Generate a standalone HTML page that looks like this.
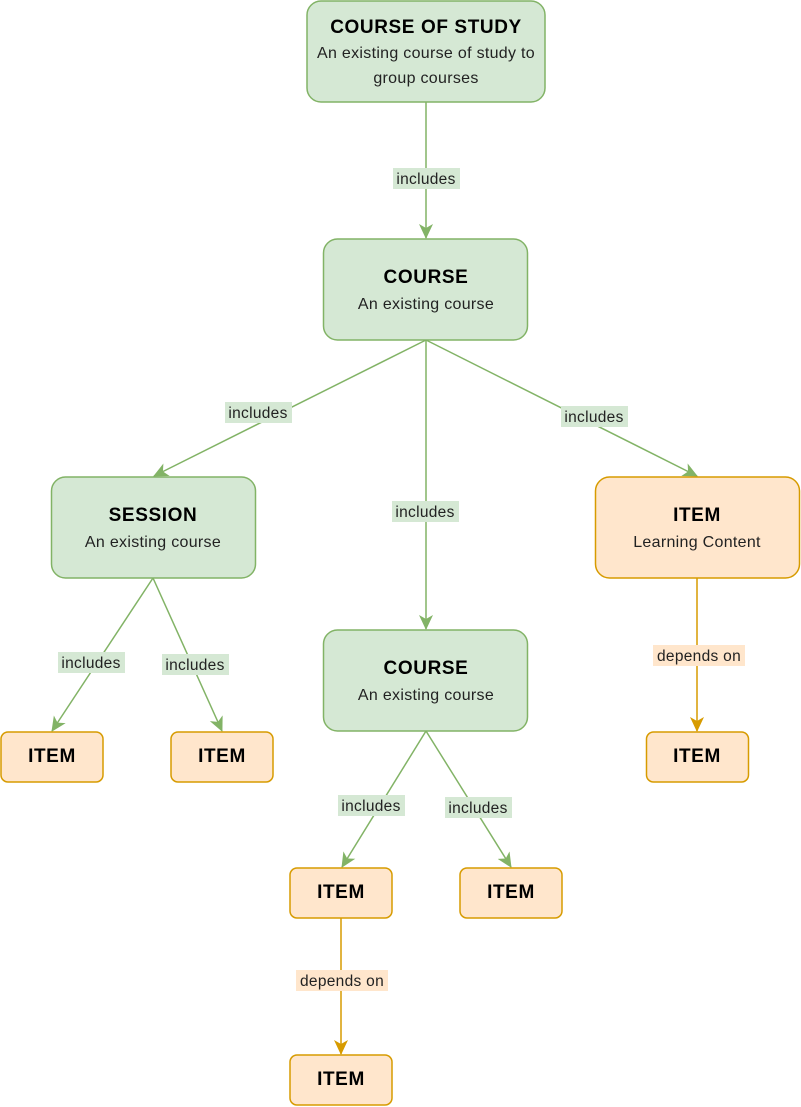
<!DOCTYPE html>
<html><head><meta charset="utf-8"><style>
html,body{margin:0;padding:0;background:#fff}
svg{display:block}
text{font-family:"Liberation Sans",sans-serif}
.t{font-size:19px;font-weight:bold;fill:#000;letter-spacing:0.6px}
.s{font-size:16px;fill:#222;letter-spacing:0.3px}
.l{font-size:15.5px;fill:#222;letter-spacing:0.3px}
</style></head><body>
<svg width="801" height="1107" viewBox="0 0 801 1107" xmlns="http://www.w3.org/2000/svg">
<defs>
<marker id="ag" markerWidth="16" markerHeight="16" refX="14" refY="7" orient="auto" markerUnits="userSpaceOnUse"><path d="M0,0 L15,7 L0,14 L4,7 Z" fill="#82b366"/></marker>
<marker id="ao" markerWidth="16" markerHeight="16" refX="14" refY="7" orient="auto" markerUnits="userSpaceOnUse"><path d="M0,0 L15,7 L0,14 L4,7 Z" fill="#d79b00"/></marker>
</defs>
<g stroke="#82b366" stroke-width="1.5" fill="none" marker-end="url(#ag)">
<line x1="426" y1="102" x2="426" y2="238"/>
<line x1="426" y1="340" x2="154" y2="476"/>
<line x1="426" y1="340" x2="697" y2="476"/>
<line x1="426" y1="340" x2="426" y2="629"/>
<line x1="153" y1="578" x2="52" y2="731"/>
<line x1="153" y1="578" x2="222" y2="731"/>
<line x1="426" y1="731" x2="342" y2="867"/>
<line x1="426" y1="731" x2="511" y2="867"/>
</g>
<g stroke="#d79b00" stroke-width="1.5" fill="none" marker-end="url(#ao)">
<line x1="697" y1="578" x2="697" y2="731"/>
<line x1="341" y1="918" x2="341" y2="1054"/>
</g>
<g fill="#d5e8d4" stroke="#82b366" stroke-width="1.5">
<rect x="307" y="1" width="238" height="101" rx="14"/>
<rect x="323.5" y="239" width="204" height="101" rx="14"/>
<rect x="51.5" y="477" width="204" height="101" rx="14"/>
<rect x="323.5" y="630" width="204" height="101" rx="14"/>
</g>
<g fill="#ffe6cc" stroke="#d79b00" stroke-width="1.5">
<rect x="595.5" y="477" width="204" height="101" rx="14"/>
<rect x="1" y="732" width="102" height="50" rx="7"/>
<rect x="171" y="732" width="102" height="50" rx="7"/>
<rect x="646.5" y="732" width="102" height="50" rx="7"/>
<rect x="290" y="868" width="102" height="50" rx="7"/>
<rect x="460" y="868" width="102" height="50" rx="7"/>
<rect x="290" y="1055" width="102" height="50" rx="7"/>
</g>
<g text-anchor="middle">
<text class="t" x="426" y="33">COURSE OF STUDY</text>
<text class="s" x="426" y="58">An existing course of study to</text>
<text class="s" x="426" y="83">group courses</text>
<text class="t" x="426" y="283">COURSE</text>
<text class="s" x="426" y="309">An existing course</text>
<text class="t" x="153" y="521">SESSION</text>
<text class="s" x="153" y="547">An existing course</text>
<text class="t" x="697" y="521">ITEM</text>
<text class="s" x="697" y="547">Learning Content</text>
<text class="t" x="426" y="674">COURSE</text>
<text class="s" x="426" y="700">An existing course</text>
<text class="t" x="52" y="762">ITEM</text>
<text class="t" x="222" y="762">ITEM</text>
<text class="t" x="697" y="762">ITEM</text>
<text class="t" x="341" y="898">ITEM</text>
<text class="t" x="511" y="898">ITEM</text>
<text class="t" x="341" y="1085">ITEM</text>
</g>
<g>
<rect x="393" y="168" width="67" height="21" fill="#d5e8d4"/>
<rect x="225" y="402" width="67" height="21" fill="#d5e8d4"/>
<rect x="561" y="406" width="67" height="21" fill="#d5e8d4"/>
<rect x="392" y="501" width="67" height="21" fill="#d5e8d4"/>
<rect x="58" y="652" width="67" height="21" fill="#d5e8d4"/>
<rect x="162" y="654" width="67" height="21" fill="#d5e8d4"/>
<rect x="338" y="795" width="67" height="21" fill="#d5e8d4"/>
<rect x="445" y="797" width="67" height="21" fill="#d5e8d4"/>
<rect x="653" y="645" width="92" height="21" fill="#ffe6cc"/>
<rect x="296" y="970" width="92" height="21" fill="#ffe6cc"/>
</g>
<g text-anchor="middle">
<text class="l" x="426" y="184">includes</text>
<text class="l" x="258" y="418">includes</text>
<text class="l" x="594" y="422">includes</text>
<text class="l" x="425" y="517">includes</text>
<text class="l" x="91" y="668">includes</text>
<text class="l" x="195" y="670">includes</text>
<text class="l" x="371" y="811">includes</text>
<text class="l" x="478" y="813">includes</text>
<text class="l" x="699" y="661">depends on</text>
<text class="l" x="342" y="986">depends on</text>
</g>
</svg>
</body></html>
